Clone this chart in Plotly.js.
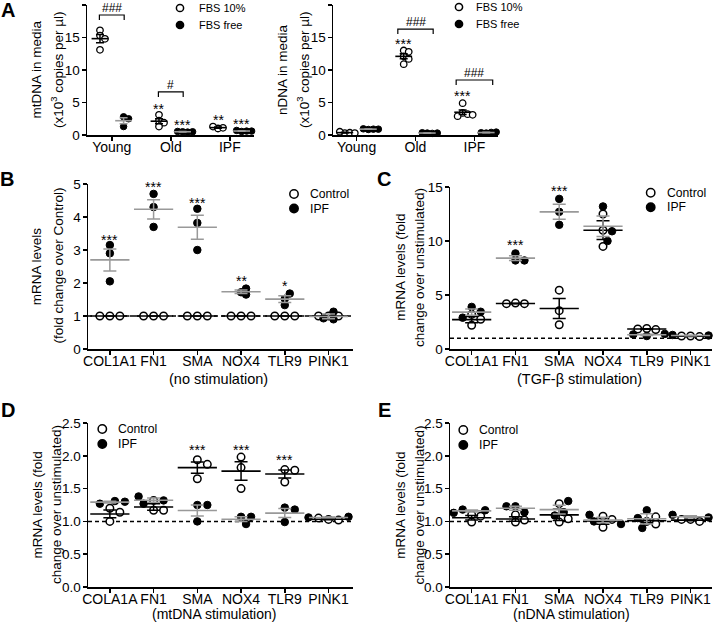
<!DOCTYPE html>
<html><head><meta charset="utf-8">
<script src="https://cdn.plot.ly/plotly-3.0.1.min.js"></script>
<style>html,body{margin:0;padding:0;background:#fff}</style>
</head><body><div id="chart" style="width:713px;height:629px"></div>
<script>
// ---------------- DATA ----------------
const groupsA = ['Young', 'Old', 'IPF'];
const genes = ['COL1A1', 'FN1', 'SMA', 'NOX4', 'TLR9', 'PINK1'];
const genesD = ['COLA1A', 'FN1', 'SMA', 'NOX4', 'TLR9', 'PINK1'];

// Panel A (x10^3 copies per µl), per group Young / Old / IPF
const mtFBS10   = [[16.1, 15.3, 14.8, 13.1], [3.1, 2.2, 1.9, 1.3], [1.0, 1.1, 1.3]];
const mtFBSfree = [[2.8, 2.5, 1.3], [0.5, 0.45, 0.55, 0.5], [0.55, 0.6, 0.7, 0.6]];
const nFBS10    = [[0.3, 0.35, 0.5, 0.3], [13.0, 12.8, 12.1, 11.7, 10.9], [4.9, 3.4, 3.2, 2.9, 3.1]];
const nFBSfree  = [[0.85, 0.9, 0.95, 0.9], [0.3, 0.25, 0.35, 0.3], [0.3, 0.4, 0.35, 0.45]];

// Panel B: no stimulation (fold change over Control)
const bControl = [[1, 1, 1], [1, 1, 1], [1, 1, 1], [1, 1, 1], [1, 1, 1], [1, 1, 1]];
const bIPF     = [[2.9, 2.05, 3.15], [4.7, 4.3, 3.7], [4.25, 3.82, 3.0], [1.72, 1.65, 1.83], [1.52, 1.68, 1.33], [0.9, 0.93, 1.13]];

// Panel C: TGF-beta stimulation
const cControl = [[3.2, 2.2, 2.75], [4.25, 4.2, 4.2], [5.45, 3.55, 2.25], [12.5, 11.0, 9.5], [1.9, 1.8, 1.85], [1.2, 1.15, 1.2]];
const cIPF     = [[3.45, 2.9, 3.9], [8.2, 8.2, 8.85], [13.9, 12.7, 11.5], [13.2, 10.9, 10.0], [1.2, 1.4, 1.35], [1.25, 1.3, 1.2]];

// Panel D: mtDNA stimulation
const dControl = [[1.0, 1.2, 1.14], [1.32, 1.17, 1.17], [1.94, 1.87, 1.65], [1.98, 1.82, 1.5], [1.79, 1.78, 1.6], [1.03, 1.02, 1.05]];
const dIPF     = [[1.31, 1.27, 1.3], [1.27, 1.32, 1.38], [1.25, 1.25, 1.0], [1.07, 1.07, 0.96], [1.21, 1.18, 0.99], [1.07, 1.06, 1.05]];

// Panel E: nDNA stimulation
const eControl = [[1.1, 0.99, 1.08], [1.1, 0.99, 1.02], [1.27, 0.99, 1.04], [0.91, 1.08, 1.03], [1.0, 0.96, 1.07], [1.03, 1.0, 1.03]];
const eIPF     = [[1.18, 1.17, 1.13], [1.23, 1.14, 1.23], [1.31, 1.09, 1.14], [1.0, 1.1, 0.96], [1.17, 0.9, 1.05], [1.06, 1.1, 1.05]];

// ---------------- LAYOUT CONFIG ----------------
const W = 713, H = 629;
const FONT = "Arial, 'Liberation Sans', sans-serif";
const GRAY = '#999999';

const panels = [
  {n: 1, box: [87, 254, 5, 135], xr: [-0.42, 2.41], yr: [0, 20], dtick: 5, fmt: '', cats: groupsA,
   series: [{name: 'FBS 10%', v: mtFBS10, fill: false, off: -0.2, mc: '#000'},
            {name: 'FBS free', v: mtFBSfree, fill: true, off: 0.2, mc: GRAY}],
   msize: 6.5, mline: 1.3, meanW: 12, cap: 4, step: 2.5, minD: 4.5},
  {n: 2, box: [333, 498, 5, 135], xr: [-0.4, 2.4], yr: [0, 20], dtick: 5, fmt: '', cats: groupsA,
   series: [{name: 'FBS 10%', v: nFBS10, fill: false, off: -0.2, mc: '#000'},
            {name: 'FBS free', v: nFBSfree, fill: true, off: 0.2, mc: GRAY}],
   msize: 6.5, mline: 1.3, meanW: 12, cap: 4, step: 2.5, minD: 4.5},
  {n: 3, box: [88, 353, 184, 349], xr: [-0.5, 5.56], yr: [0, 5], dtick: 1, fmt: '', cats: genes,
   series: [{name: 'Control', v: bControl, fill: false, off: 0, mc: '#000'},
            {name: 'IPF', v: bIPF, fill: true, off: 0, mc: GRAY}],
   msize: 7.5, mline: 1.5, meanW: 28, cap: 6.5, step: 5, minD: 5.5},
  {n: 4, box: [450, 712, 187, 349], xr: [-0.495, 5.49], yr: [0, 15], dtick: 5, fmt: '', cats: genes,
   series: [{name: 'Control', v: cControl, fill: false, off: 0, mc: '#000'},
            {name: 'IPF', v: cIPF, fill: true, off: 0, mc: GRAY}],
   msize: 7.5, mline: 1.5, meanW: 28, cap: 6.5, step: 4.5, minD: 7},
  {n: 5, box: [88, 353, 423, 587], xr: [-0.5, 5.56], yr: [0, 2.5], dtick: 0.5, fmt: '.1f', cats: genesD,
   series: [{name: 'Control', v: dControl, fill: false, off: 0, mc: '#000'},
            {name: 'IPF', v: dIPF, fill: true, off: 0, mc: GRAY}],
   msize: 7.5, mline: 1.5, meanW: 28, cap: 6.5, step: 5, minD: 8},
  {n: 6, box: [450, 712, 423, 587], xr: [-0.495, 5.49], yr: [0, 2.5], dtick: 0.5, fmt: '.1f', cats: genes,
   series: [{name: 'Control', v: eControl, fill: false, off: 0, mc: '#000'},
            {name: 'IPF', v: eIPF, fill: true, off: 0, mc: GRAY}],
   msize: 7.5, mline: 1.5, meanW: 28, cap: 6.5, step: 4.5, minD: 7}
];

function suf(n) { return n > 1 ? String(n) : ''; }

function stats(a) {
  const n = a.length, m = a.reduce((s, x) => s + x, 0) / n;
  const sd = Math.sqrt(a.reduce((s, x) => s + (x - m) * (x - m), 0) / (n - 1));
  return [m, sd / Math.sqrt(n)];
}

// simple beeswarm: dodge overlapping points horizontally (pixel space)
function swarm(p) {
  const ppc = (p.box[1] - p.box[0]) / (p.xr[1] - p.xr[0]);
  const ppy = (p.box[3] - p.box[2]) / (p.yr[1] - p.yr[0]);
  const placed = {};
  return p.series.map(s => {
    const xs = [], ys = [];
    s.v.forEach((vals, i) => {
      const c = i + s.off, key = c.toFixed(3);
      const arr = placed[key] || (placed[key] = []);
      vals.forEach(v => {
        const py = v * ppy;
        let dx = 0;
        for (let k = 0; k < 60; k++) {
          const m = (k % 2) ? (k + 1) / 2 : -k / 2;
          dx = m * p.step;
          if (arr.every(q => Math.hypot(q[0] - dx, q[1] - py) >= p.minD)) break;
        }
        arr.push([dx, py]);
        xs.push(c + dx / ppc); ys.push(v);
      });
    });
    return {xs, ys};
  });
}

const traces = [];
const layout = {
  width: W, height: H, margin: {l: 0, r: 0, t: 0, b: 0},
  paper_bgcolor: '#fff', plot_bgcolor: 'rgba(0,0,0,0)',
  font: {family: FONT, color: '#000', size: 13},
  showlegend: false, shapes: [], annotations: []
};

panels.forEach(p => {
  const s = suf(p.n);
  layout['xaxis' + s] = {
    domain: [p.box[0] / W, p.box[1] / W], range: p.xr, anchor: 'y' + s,
    showline: true, linecolor: '#000', linewidth: 1.5, ticks: 'outside', ticklen: 4,
    tickwidth: 1.5, tickcolor: '#000', tickvals: p.cats.map((_, i) => i), ticktext: p.cats,
    tickfont: {size: 14}, ticklabelstandoff: -5, showgrid: false, zeroline: false, fixedrange: true
  };
  layout['yaxis' + s] = {
    domain: [1 - p.box[3] / H, 1 - p.box[2] / H], range: p.yr, anchor: 'x' + s,
    showline: true, linecolor: '#000', linewidth: 1.5, ticks: 'outside', ticklen: 4,
    tickwidth: 1.5, tickcolor: '#000', tick0: 0, dtick: p.dtick, tickformat: p.fmt,
    tickfont: {size: 13.5}, ticklabelstandoff: -1, showgrid: false, zeroline: false, fixedrange: true
  };
  const pos = swarm(p);
  p.series.forEach((ser, si) => {
    traces.push({
      type: 'scatter', mode: 'markers', name: ser.name, xaxis: 'x' + s, yaxis: 'y' + s,
      x: pos[si].xs, y: pos[si].ys, cliponaxis: false,
      marker: {symbol: 'circle', size: p.msize, color: ser.fill ? '#000' : '#fff',
               line: {color: '#000', width: ser.fill ? 1 : p.mline}}
    });
  });
  p.series.forEach(ser => {
    const xs = [], ms = [], es = [];
    ser.v.forEach((vals, i) => { const st = stats(vals); xs.push(i + ser.off); ms.push(st[0]); es.push(st[1]); });
    traces.push({
      type: 'scatter', mode: 'markers', name: ser.name + ' mean', xaxis: 'x' + s, yaxis: 'y' + s,
      x: xs, y: ms, cliponaxis: false,
      marker: {symbol: 'line-ew', size: p.meanW, color: ser.mc, line: {color: ser.mc, width: 1.6}},
      error_y: {type: 'data', array: es, visible: true, color: ser.mc, thickness: 1.5, width: p.cap}
    });
  });
  if (p.n >= 3) {
    layout.shapes.push({type: 'line', xref: 'x' + s + ' domain', yref: 'y' + s, x0: 0, x1: 1, y0: 1, y1: 1,
      layer: 'below', line: {color: '#000', width: 1.5, dash: '4px,3px'}});
  }
});

// significance marks: [panel, x (category units), y (data units), text]
const stars = [
  [1, 0.8, 4.46, '**'], [1, 1.2, 2.0, '***'], [1, 1.8, 2.77, '**'], [1, 2.2, 2.15, '***'],
  [2, 0.8, 14.46, '***'], [2, 1.8, 6.46, '***'],
  [3, 0, 3.4, '***'], [3, 1, 4.99, '***'], [3, 2, 4.52, '***'], [3, 3, 2.14, '**'], [3, 4, 1.99, '*'],
  [4, 1, 9.93, '***'], [4, 2, 14.95, '***'],
  [5, 2, 2.13, '***'], [5, 3, 2.13, '***'], [5, 4, 1.98, '***']
];
stars.forEach(a => {
  const s = suf(a[0]);
  layout.annotations.push({xref: 'x' + s, yref: 'y' + s, x: a[1], y: a[2], text: a[3], showarrow: false,
    xanchor: 'center', yanchor: 'middle', yshift: -3, font: {size: 14}});
});

// brackets: [panel, center, half width, top y, drop y, text y, text]
const brackets = [
  [1, 0, 0.21, 18.46, 17.7, 19.54, '###'],
  [1, 1, 0.21, 6.62, 5.85, 7.7, '#'],
  [2, 1, 0.3, 16.3, 15.54, 17.38, '###'],
  [2, 2, 0.31, 8.46, 7.69, 9.54, '###']
];
brackets.forEach(b => {
  const s = suf(b[0]);
  const x0 = b[1] - b[2], x1 = b[1] + b[2];
  layout.shapes.push({type: 'path', xref: 'x' + s, yref: 'y' + s,
    path: `M${x0},${b[4]} L${x0},${b[3]} L${x1},${b[3]} L${x1},${b[4]}`,
    line: {color: '#000', width: 1.2}});
  layout.annotations.push({xref: 'x' + s, yref: 'y' + s, x: b[1], y: b[5], text: b[6], showarrow: false,
    xanchor: 'center', yanchor: 'middle', font: {size: 12}});
});

// legends drawn as symbol + text: [cx, cy, dy, textX, font, radius, labels]
const legends = [
  [180, 8, 17, 197, 11, 3.6, ['FBS 10%', 'FBS free']],
  [459, 7, 17, 474, 11, 3.6, ['FBS 10%', 'FBS free']],
  [294, 194, 14.5, 308, 12.2, 4.2, ['Control', 'IPF']],
  [650.7, 192.7, 14.5, 665, 12.2, 4.2, ['Control', 'IPF']],
  [102.3, 429, 15, 116, 12.2, 4.2, ['Control', 'IPF']],
  [463.3, 430, 15, 477, 12.2, 4.2, ['Control', 'IPF']]
];
legends.forEach(L => {
  L[6].forEach((lab, i) => {
    const cy = L[1] + i * L[2];
    layout.shapes.push({type: 'circle', xref: 'paper', yref: 'paper', xsizemode: 'pixel', ysizemode: 'pixel',
      xanchor: L[0] / W, yanchor: 1 - cy / H, x0: -L[5], x1: L[5], y0: -L[5], y1: L[5],
      fillcolor: i === 0 ? '#fff' : '#000', line: {color: '#000', width: 1.5}});
    layout.annotations.push({xref: 'paper', yref: 'paper', x: L[3] / W, y: 1 - cy / H, text: lab,
      showarrow: false, xanchor: 'left', yanchor: 'middle', font: {size: L[4]}});
  });
});

// free text: [x px, y px, text, size, angle, bold]
const texts = [
  [8, 10, 'A', 20, 0, true], [7, 179, 'B', 20, 0, true], [384, 179, 'C', 20, 0, true],
  [7.5, 409.5, 'D', 20, 0, true], [384, 409.5, 'E', 20, 0, true],
  [35.5, 70, 'mtDNA in media', 13.5, -90], [57, 70, '(x10<sup>3</sup> copies per µl)', 13.5, -90],
  [282, 70, 'nDNA in media', 13.5, -90], [303, 70, '(x10<sup>3</sup> copies per µl)', 13.5, -90],
  [36.3, 266, 'mRNA levels', 13.5, -90], [57.5, 266, '(fold change over Control)', 13.5, -90],
  [399.7, 267, 'mRNA levels (fold', 13.5, -90], [419, 267, 'change over unstimulated)', 13.5, -90],
  [36.5, 505, 'mRNA levels (fold', 13.5, -90], [56, 505, 'change over unstimulated)', 13.5, -90],
  [399.7, 505, 'mRNA levels (fold', 13.5, -90], [418.5, 505, 'change over unstimulated)', 13.5, -90],
  [218, 379, '(no stimulation)', 14.5, 0], [579, 379, '(TGF-β stimulation)', 14.5, 0],
  [214, 614, '(mtDNA stimulation)', 14, 0], [571, 614, '(nDNA stimulation)', 14, 0]
];
texts.forEach(t => {
  layout.annotations.push({xref: 'paper', yref: 'paper', x: t[0] / W, y: 1 - t[1] / H,
    text: t[5] ? '<b>' + t[2] + '</b>' : t[2], textangle: t[4], showarrow: false,
    xanchor: 'center', yanchor: 'middle', font: {size: t[3]}});
});

Plotly.newPlot('chart', traces, layout, {staticPlot: true, displayModeBar: false});
</script>
</body></html>
